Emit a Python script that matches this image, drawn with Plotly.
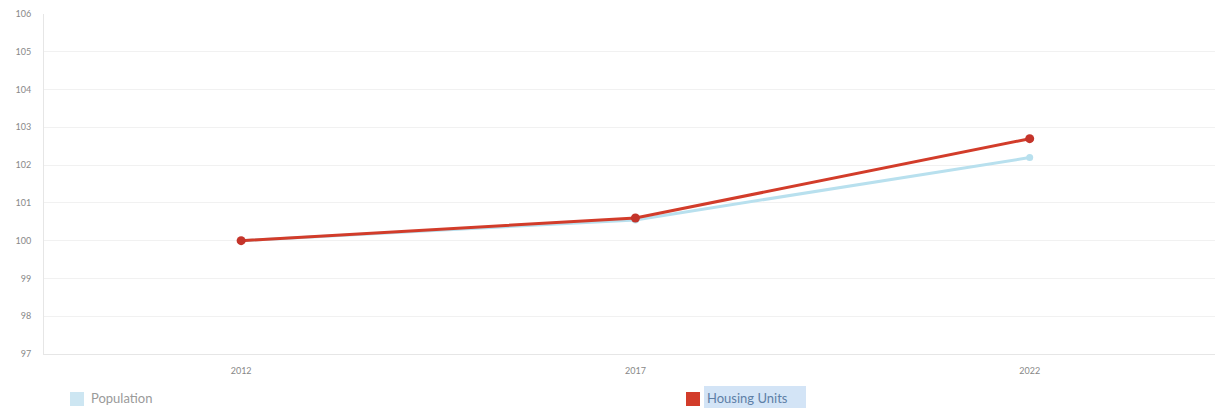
import plotly.graph_objects as go

years = ["2012", "2017", "2022"]
population = [100.0, 100.55, 102.2]
housing_units = [100.0, 100.6, 102.7]
y_ticks = [97, 98, 99, 100, 101, 102, 103, 104, 105, 106]

pop_color = "#b8e0ee"
house_color = "#d23c2a"

fig = go.Figure()

fig.add_trace(go.Scatter(
    x=years, y=population, mode="lines+markers", name="Population",
    line=dict(color=pop_color, width=3),
    marker=dict(color=pop_color, size=7),
    showlegend=False,
))
fig.add_trace(go.Scatter(
    x=years, y=housing_units, mode="lines+markers", name="Housing Units",
    line=dict(color=house_color, width=3),
    marker=dict(color="#c4342a", size=9),
    showlegend=False,
))

# hand-placed legend below the plot area
W, H = 1220, 410
L, R, T, B = 44, 5, 14, 56
pw, ph = W - L - R, H - T - B


def px(x):
    return (x - L) / pw


def py(y):
    return (H - B - y) / ph


# selection highlight behind "Housing Units"
fig.add_shape(type="rect", xref="paper", yref="paper",
              x0=px(704), x1=px(806), y0=py(386), y1=py(408),
              fillcolor="#d3e4f6", line=dict(width=0), layer="below")

legend_items = [
    ("Population", "#cde6f2", 70, "#9a9a9a"),
    ("Housing Units", house_color, 686, "#5e7fa6"),
]
for label, color, x0, tcolor in legend_items:
    fig.add_shape(type="rect", xref="paper", yref="paper",
                  x0=px(x0), x1=px(x0 + 14), y0=py(392), y1=py(406),
                  fillcolor=color, line=dict(width=0))
    fig.add_annotation(xref="paper", yref="paper", x=px(x0 + 19), y=py(398),
                       text=label, showarrow=False, xanchor="left", yanchor="middle",
                       font=dict(size=13, color=tcolor))

fig.update_layout(
    width=W, height=H,
    margin=dict(l=L, r=R, t=T, b=B),
    paper_bgcolor="white", plot_bgcolor="white",
    font=dict(family="Lato, sans-serif", color="#777777"),
    showlegend=False,
    xaxis=dict(
        type="category", range=[-0.5, 2.47],
        showgrid=False, showline=True, linecolor="#e6e6e6", linewidth=1,
        tickfont=dict(size=9, color="#888888"), ticks="",
        ticklabelstandoff=8,
    ),
    yaxis=dict(
        range=[97, 106], tickvals=y_ticks,
        showgrid=True, gridcolor="#f1f1f1", gridwidth=1,
        showline=True, linecolor="#e6e6e6", linewidth=1,
        zeroline=False, ticks="",
        tickfont=dict(size=9, color="#888888"),
        ticklabelstandoff=10,
    ),
)

fig.write_html("out.html")
